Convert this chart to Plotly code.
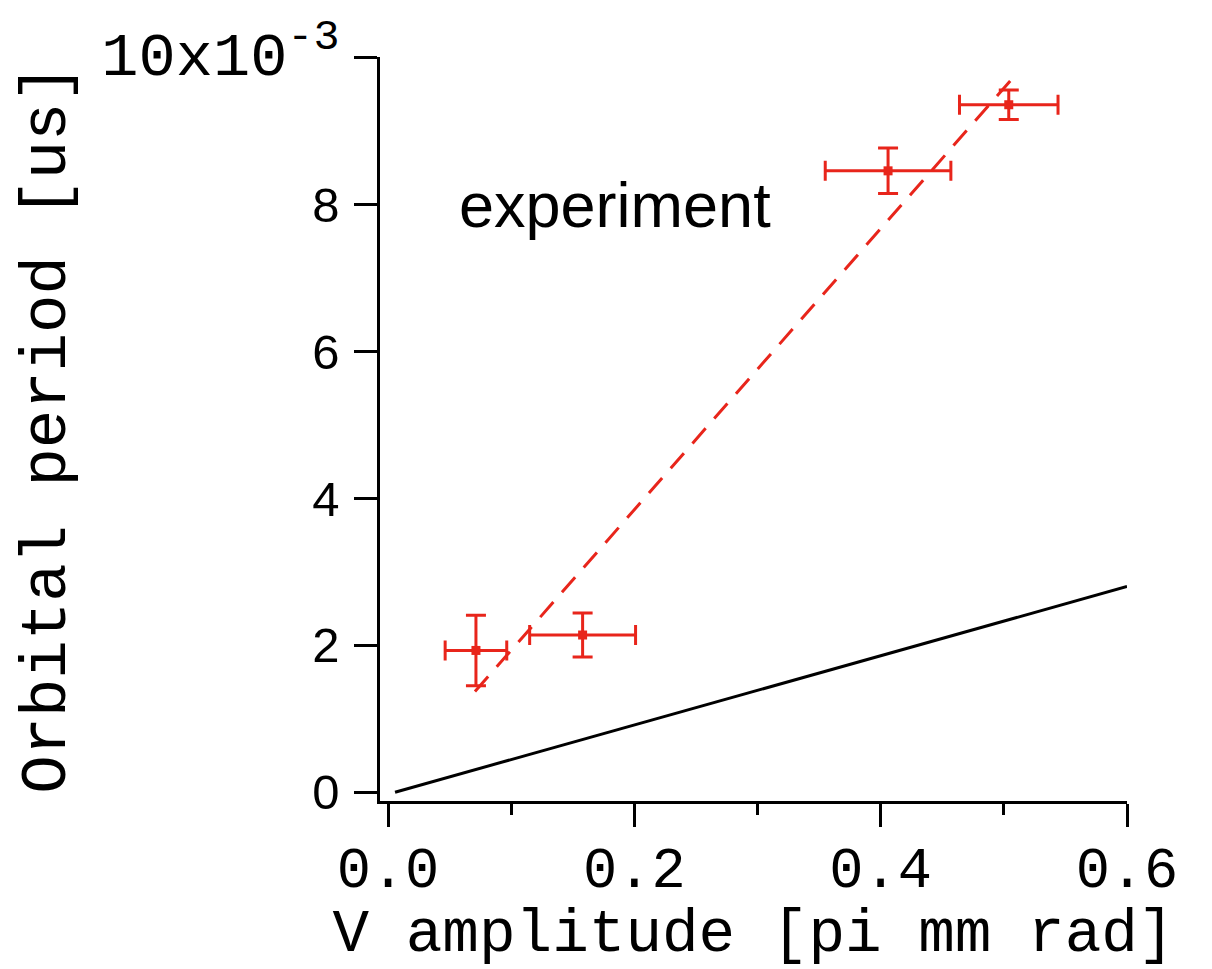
import plotly.graph_objects as go

# experiment data
exp_x = [0.0714, 0.158, 0.406, 0.504]
exp_y = [1.93, 2.14, 8.46, 9.36]
exp_xerr = [0.025, 0.043, 0.051, 0.040]
exp_yerr = [0.48, 0.30, 0.31, 0.20]

# dashed fit line through experiment
fit_x = [0.0706, 0.507]
fit_y = [1.37, 9.72]

# black theory line
theory_x = [0.0057, 0.6]
theory_y = [0.0, 2.80]

MONO = "Liberation Mono, Courier New, monospace"
SANS = "Liberation Sans, Arial, Helvetica, sans-serif"

x_ticks = [0.0, 0.2, 0.4, 0.6]
x_ticktext = ["0.0", "0.2", "0.4", "0.6"]
y_ticks = [0, 2, 4, 6, 8, 10]
y_ticktext = ["0", "2", "4", "6", "8",
              '<span style="font-family:Liberation Mono, Courier New, monospace;'
              'font-size:62px">10x10<sup>-3</sup></span>']

RED = "#e8251b"

fig = go.Figure()

fig.add_trace(go.Scatter(
    x=theory_x, y=theory_y, mode="lines",
    line=dict(color="black", width=3), showlegend=False,
))

fig.add_trace(go.Scatter(
    x=fit_x, y=fit_y, mode="lines",
    line=dict(color=RED, width=3, dash="20px,13px"), showlegend=False,
))

fig.add_trace(go.Scatter(
    x=exp_x, y=exp_y, mode="markers",
    marker=dict(color=RED, size=9, symbol="square"),
    error_x=dict(type="data", array=exp_xerr, color=RED, thickness=3, width=10),
    error_y=dict(type="data", array=exp_yerr, color=RED, thickness=3, width=10),
    showlegend=False,
))

fig.add_annotation(
    text="experiment", x=0.056, y=8.0, xref="x", yref="y",
    xanchor="left", yanchor="middle", showarrow=False,
    font=dict(family=SANS, size=63, color="black"),
)

fig.update_layout(
    width=1204, height=961,
    margin=dict(l=372, r=85, t=49, b=168),
    plot_bgcolor="white", paper_bgcolor="white",
    xaxis=dict(
        range=[-0.0065, 0.6], tickvals=x_ticks, ticktext=x_ticktext,
        showgrid=False, zeroline=False, showline=True,
        linecolor="black", linewidth=2.5, automargin=False,
        ticks="outside", ticklen=23, tickwidth=2.5, tickcolor="black",
        minor=dict(dtick=0.1, ticks="outside", ticklen=11, tickwidth=2.5,
                   tickcolor="black", showgrid=False),
        tickfont=dict(family=MONO, size=57, color="black"),
        ticklabelstandoff=-8,
        title=dict(text="V amplitude [pi mm rad]",
                   font=dict(family=MONO, size=61, color="black")),
    ),
    yaxis=dict(
        range=[-0.12, 10.01], tickvals=y_ticks, ticktext=y_ticktext,
        showgrid=False, zeroline=False, showline=True,
        linecolor="black", linewidth=2.5, automargin=False,
        ticks="outside", ticklen=23, tickwidth=2.5, tickcolor="black",
        tickfont=dict(family=SANS, size=49, color="black"),
        ticklabelstandoff=5,
        title=dict(text="Orbital period [us]",
                   font=dict(family=MONO, size=64, color="black")),
    ),
)

fig.write_html("out.html")
